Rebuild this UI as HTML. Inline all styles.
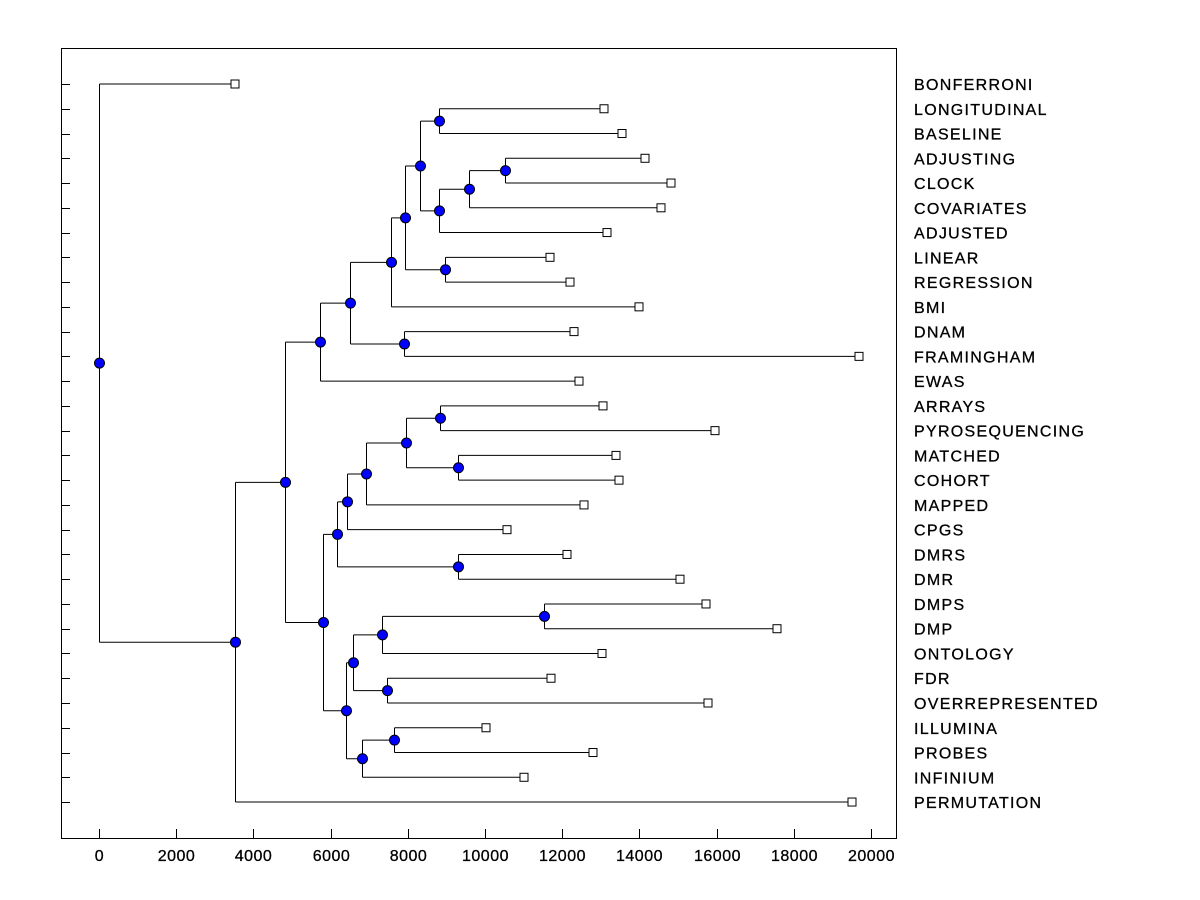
<!DOCTYPE html>
<html><head><meta charset="utf-8"><style>body{margin:0;background:#fff}svg{display:block}text{font-family:"Liberation Sans",Arial,sans-serif}</style></head>
<body><svg id="s" width="1200" height="900" xmlns="http://www.w3.org/2000/svg"></svg>
<script>
const S=document.getElementById('s');
const names=["BONFERRONI","LONGITUDINAL","BASELINE","ADJUSTING","CLOCK","COVARIATES","ADJUSTED","LINEAR","REGRESSION","BMI","DNAM","FRAMINGHAM","EWAS","ARRAYS","PYROSEQUENCING","MATCHED","COHORT","MAPPED","CPGS","DMRS","DMR","DMPS","DMP","ONTOLOGY","FDR","OVERREPRESENTED","ILLUMINA","PROBES","INFINIUM","PERMUTATION"];
const lx=[235,604,622,645,671,661,607,550,570,639,574,859,579,603,715,616,619,584,507,567,680,706,777,602,551,708,486,593,524,852];
const ry=i=>84+i*24.76;
let h='';
h+='<rect x="61.5" y="48.5" width="835" height="790" fill="none" stroke="#000"/>';
for(let i=0;i<30;i++){const y=Math.round(ry(i))+.5;h+=`<line x1="61" y1="${y}" x2="70" y2="${y}" stroke="#000"/>`;
h+=`<text x="914" y="${ry(i)+6}" font-size="16" letter-spacing="1.3" stroke="#000" stroke-width="0.3">${names[i]}</text>`;}
for(let k=0;k<=10;k++){const x=Math.round(99+k*77.2)+.5;h+=`<line x1="${x}" y1="829" x2="${x}" y2="838" stroke="#000"/>`;h+=`<text x="${x}" y="861" font-size="16" letter-spacing="0.5" text-anchor="middle" stroke="#000" stroke-width="0.3">${k*2000}</text>`;}
const T=[99,0,[235,[285,[320,[350,[391,[405,[420,[439,1,2],[439,[469,[505,3,4],5],6]],[445,7,8]],9],[404,10,11]],12],[323,[337,[347,[366,[406,[440,13,14],[458,15,16]],17],18],[458,19,20]],[346,[353,[382,[544,21,22],23],[387,24,25]],[362,[394,26,27],28]]]],29]];
let lines='',dots='',sq='';
function walk(n){
 if(typeof n==='number'){const y=ry(n);sq+=`<rect x="${lx[n]-4}" y="${y-4}" width="8" height="8" fill="#fff" stroke="#000"/>`;return{x:lx[n],y};}
 const a=walk(n[1]),b=walk(n[2]);const x=n[0];const y=(a.y+b.y)/2;
 lines+=`<path d="M${x+.5} ${a.y}V${b.y}M${x+.5} ${a.y}H${a.x}M${x+.5} ${b.y}H${b.x}" fill="none" stroke="#000"/>`;
 dots+=`<circle cx="${x+.5}" cy="${y}" r="5" fill="#0000ff" stroke="#000"/>`;
 return{x,y};}
walk(T);
S.innerHTML=h+lines+sq+dots;
</script></body></html>
